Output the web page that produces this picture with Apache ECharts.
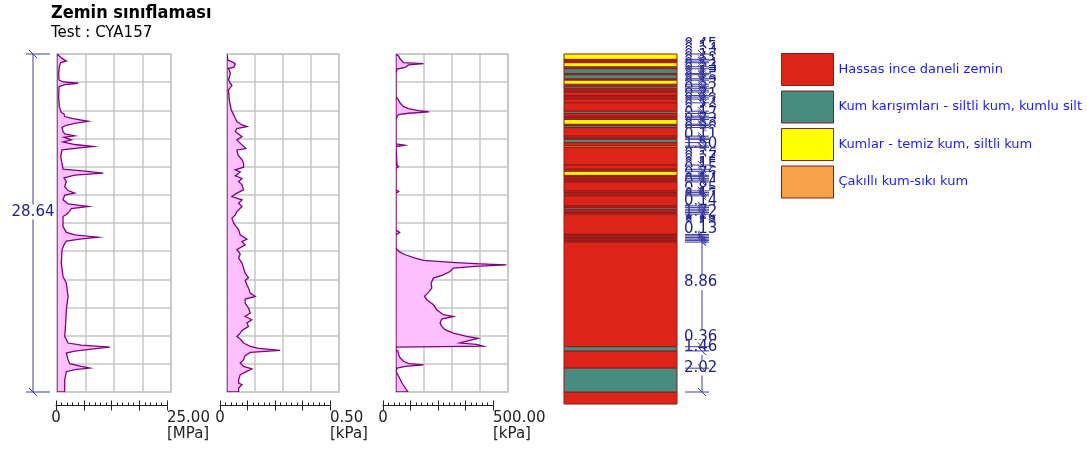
<html>
<head>
<meta http-equiv="content-type" content="text/html; charset=utf-8">
<script src="https://cdn.jsdelivr.net/npm/echarts@6/dist/echarts.min.js"></script>
<style>
html, body { margin: 0; padding: 0; background: #ffffff; }
#chart { width: 1087px; height: 455px; }
</style>
<title>Zemin sınıflaması</title>
</head>
<body>
<div id="chart"></div>
<script type="text/javascript">
///////////////////////////////////////////////////////////////////////////////
// data (depth in m)
var depthMax = 28.64;

// cone resistance qc [MPa]
var qcDepth = [0,0.06,0.37,0.59,0.73,1.07,1.64,2.20,2.37,2.48,2.60,2.77,3.61,4.46,4.97,5.08,5.30,5.47,5.70,5.87,
	6.04,6.21,6.57,6.77,6.94,7.05,7.28,7.45,7.67,7.84,7.96,8.13,8.69,9.26,9.76,9.93,10.10,10.27,10.50,10.81,
	11.23,11.57,11.79,11.96,12.36,12.70,12.92,13.09,13.32,13.60,13.77,14.62,15.12,15.32,15.52,15.69,15.86,16.17,16.59,17.72,
	18.85,19.41,20.54,21.67,22.80,23.93,24.49,24.66,24.83,25.00,25.17,25.34,25.90,26.24,26.47,26.61,26.75,26.92,27.60,28.64];
var qcValue = [0,0.22,1.10,2.05,0.81,0.51,0.37,0.44,1.32,4.62,1.69,0.44,0.37,0.51,0.95,1.54,1.69,3.52,6.82,3.89,
	2.05,1.10,1.32,1.69,3.89,1.54,3.15,1.32,3.89,7.92,4.99,1.10,0.81,1.10,1.32,6.09,10.12,3.89,1.54,2.05,
	1.69,2.42,3.89,1.69,1.32,2.42,6.82,3.15,2.79,2.05,1.32,1.32,2.05,3.89,9.02,4.99,2.05,1.54,1.10,0.95,
	1.32,2.05,2.42,2.05,1.91,1.69,2.42,5.35,11.58,7.55,3.89,2.05,2.42,2.79,5.35,7.18,3.89,2.05,1.69,1.69];

// sleeve friction [kPa]
var fsDepth = [0,0.51,0.73,0.85,1.13,1.21,1.64,2.20,2.48,2.65,3.05,3.89,4.74,5.16,5.45,5.73,6.01,6.15,6.32,6.57,
	7.00,7.28,7.70,8.01,8.13,8.55,8.97,9.26,9.59,9.82,9.99,10.33,10.55,10.81,11.09,11.51,11.79,12.08,12.36,12.64,
	12.92,13.35,13.63,13.91,14.33,14.90,15.32,15.69,15.91,16.17,16.59,16.93,17.30,17.72,18.14,18.57,18.96,19.19,19.55,19.84,
	20.26,20.54,20.77,21.11,21.53,21.95,22.24,22.52,22.80,23.08,23.42,23.65,23.93,24.15,24.49,24.77,24.94,25.11,25.28,25.56,
	25.90,26.19,26.47,26.69,26.89,27.17,27.60,27.88,28.02,28.30,28.64];
var fsValue = [0,0.004,0.030,0.037,0.030,0.007,0.015,0.007,0.015,0.022,0.007,0.010,0.019,0.030,0.037,0.044,0.067,0.089,0.044,0.037,
	0.067,0.044,0.067,0.084,0.044,0.049,0.067,0.074,0.074,0.037,0.059,0.037,0.067,0.052,0.067,0.074,0.044,0.022,0.067,0.052,
	0.067,0.044,0.037,0.022,0.030,0.052,0.059,0.089,0.067,0.081,0.044,0.059,0.052,0.067,0.074,0.081,0.096,0.081,0.089,0.096,
	0.104,0.126,0.081,0.081,0.096,0.104,0.081,0.111,0.089,0.096,0.067,0.059,0.044,0.059,0.074,0.104,0.141,0.237,0.104,0.081,
	0.074,0.059,0.074,0.111,0.089,0.059,0.052,0.052,0.067,0.052,0.052];

// pore pressure u2 [kPa]
var u2Depth = [0,0.17,0.45,0.73,0.82,0.93,1.13,1.27,1.64,3.61,3.84,4.18,4.46,4.63,4.80,4.91,5.02,5.14,5.30,5.59,
	7.62,7.73,7.84,9.40,9.54,9.68,11.51,11.65,11.79,14.90,15.12,15.32,16.45,16.73,17.01,17.30,17.49,17.66,17.78,17.86,
	18.00,18.14,18.43,18.71,18.99,19.41,19.84,20.26,20.54,20.82,21.25,21.67,22.09,22.24,22.46,22.80,23.08,23.36,23.65,23.93,
	24.10,24.27,24.49,24.60,24.75,24.83,25.06,25.20,25.48,25.76,26.04,26.24,26.35,26.47,26.61,26.89,27.31,27.88,28.30,28.64];
var u2Value = [0,11.8,19.2,34.0,122.8,56.2,41.4,4.4,0,0,8.9,19.2,34.0,56.2,100.6,147.9,56.2,11.8,4.4,0,
	0,38.5,0,4.4,11.8,0,0,11.8,0,0,16.3,0,0,11.8,41.4,85.8,122.8,248.5,374.3,492.6,
	352.1,255.9,241.1,211.5,167.2,156.8,159.8,142.0,127.2,137.6,167.2,182.0,211.5,255.9,204.1,196.7,204.1,218.9,255.9,315.1,
	366.9,329.9,285.5,359.5,389.1,0,0,8.9,11.8,19.2,34.0,56.2,122.8,41.4,4.4,0,11.8,26.6,41.4,53.3];

var axisMax = [25, 0.5, 500];
var axisUnit = ['[MPa]', '[kPa]', '[kPa]'];

// soil classification layers (thickness in m, type index into soilNames)
var soilNames = ['Hassas ince daneli zemin', 'Kum karışımları - siltli kum, kumlu silt', 'Kumlar - temiz kum, siltli kum', 'Çakıllı kum-sıkı kum'];
var layerThick = [0.45,0.15,0.14,0.34,0.17,0.40,0.11,0.34,0.12,0.34,0.17,0.17,
	0.17,0.15,0.30,0.13,0.17,0.32,0.71,0.19,0.23,0.14,0.14,0.40,
	0.11,0.17,0.73,0.17,0.10,0.28,0.29,0.11,1.50,0.36,0.17,0.34,
	0.11,0.15,0.15,0.15,0.76,0.14,0.14,0.14,0.85,0.13,0.15,0.14,
	0.14,0.14,1.72,0.12,0.12,0.04,0.12,0.12,0.13,8.86,0.36,1.46,2.02,1.02];
var layerType = [2,0,0,2,0,1,0,1,0,2,0,1,
	0,0,0,0,0,0,0,1,0,0,0,2,
	0,1,0,0,0,1,0,2,0,0,0,2,
	0,0,0,0,0,0,0,0,0,0,1,0,
	0,0,0,0,0,0,0,0,0,0,1,0,1,0];

///////////////////////////////////////////////////////////////////////////////
// styles / layout
var font = 'DejaVu Sans';
var soilColors = ['#dc2419', '#468c80', '#ffff00', '#f5a04b'];
var soilBorder = '#8b1a1a';
var gridColor = '#c6c6c6';
var rulerColor = '#222222';
var dimColor = '#3c3ca0';
var dimText = '#1e1e8c';
var panelLeft = [57, 227, 396];
var panelWidth = [114, 112, 112];
var rulerLeft = [56, 220, 383];
var rulerWidth = [111, 110, 110];
var plotTop = 54, plotHeight = 338;

///////////////////////////////////////////////////////////////////////////////
var grids = [], xAxes = [], yAxes = [], series = [];
var curves = [[qcDepth, qcValue], [fsDepth, fsValue], [u2Depth, u2Value]];

function curve_series(i, depths, values) {
	var pts = [];
	for (var k = 0; k < depths.length; k++) pts.push([values[k], depths[k]]);
	return {
		type: 'custom', xAxisIndex: i, yAxisIndex: i, clip: true, silent: true,
		data: pts,
		renderItem: function (params, api) {
			if (params.dataIndex !== 0) return;
			var poly = [api.coord([0, depths[0]])];
			for (var k = 0; k < depths.length; k++) poly.push(api.coord([values[k], depths[k]]));
			poly.push(api.coord([0, depths[depths.length - 1]]));
			return {type: 'polygon', shape: {points: poly},
				style: {fill: '#ffc0ff', stroke: '#800080', lineWidth: 1.3}};
		}
	};
}

// plot panels: grids 0..2
for (var i = 0; i < 3; i++) {
	grids.push({left: panelLeft[i], top: plotTop, width: panelWidth[i], height: plotHeight,
		show: true, borderColor: gridColor, borderWidth: 1.5, outerBoundsMode: 'none'});
	xAxes.push({
		gridIndex: i, type: 'value', min: 0, max: axisMax[i], interval: axisMax[i] / 4,
		axisLine: {show: false}, axisTick: {show: false}, axisLabel: {show: false},
		splitLine: {show: true, lineStyle: {color: gridColor, width: 1.5}}
	});
	yAxes.push({
		gridIndex: i, type: 'value', min: 0, max: depthMax, interval: depthMax / 12, inverse: true,
		axisLine: {show: false}, axisTick: {show: false}, axisLabel: {show: false},
		splitLine: {show: true, lineStyle: {color: gridColor, width: 1.5}}
	});
	series.push(curve_series(i, curves[i][0], curves[i][1]));
}

// soil column grid: grid 3
grids.push({left: 564, top: plotTop, width: 113, height: plotHeight, outerBoundsMode: 'none'});
xAxes.push({gridIndex: 3, type: 'value', min: 0, max: 1, show: false});
yAxes.push({gridIndex: 3, type: 'value', min: 0, max: depthMax, inverse: true, show: false});

// scale rulers under the panels: grids 4..6
for (var i = 0; i < 3; i++) {
	(function (i) {
		var max = axisMax[i];
		var g = grids.length;
		grids.push({left: rulerLeft[i], top: plotTop, width: rulerWidth[i], height: plotHeight, outerBoundsMode: 'none'});
		yAxes.push({gridIndex: g, type: 'value', min: 0, max: 1, show: false});
		// ticks above the line, with labels
		xAxes.push({
			gridIndex: g, type: 'value', min: 0, max: max, interval: max / 4,
			position: 'bottom', offset: 13.5,
			axisLine: {show: true, onZero: false, lineStyle: {color: rulerColor, width: 1}},
			axisTick: {show: true, inside: true, length: 5, lineStyle: {color: rulerColor, width: 1}},
			minorTick: {show: true, splitNumber: 5, length: 3, lineStyle: {color: rulerColor, width: 1}},
			splitLine: {show: false},
			axisLabel: {
				show: true, margin: 5, showMinLabel: true, showMaxLabel: true,
				alignMaxLabel: 'left', color: rulerColor, fontFamily: font, fontSize: 15, lineHeight: 16,
				formatter: function (v) {
					if (v === 0) return '0';
					if (Math.abs(v - max) < max * 1e-6) return max.toFixed(2) + '\n' + axisUnit[i];
					return '';
				}
			}
		});
		// major ticks continue below the line
		xAxes.push({
			gridIndex: g, type: 'value', min: 0, max: max, interval: max / 4,
			position: 'bottom', offset: 13.5,
			axisLine: {show: false, onZero: false},
			axisTick: {show: true, inside: false, length: 5, lineStyle: {color: rulerColor, width: 1}},
			axisLabel: {show: false}, splitLine: {show: false}
		});
	})(i);
}

var layerTop = [], acc = 0;
for (var k = 0; k < layerThick.length; k++) {
	layerTop.push(Math.round(acc * 100) / 100);
	acc += layerThick[k];
}

soilNames.forEach(function (name, t) {
	var d = [];
	for (var k = 0; k < layerThick.length; k++) {
		if (layerType[k] === t) d.push([layerTop[k], layerTop[k] + layerThick[k]]);
	}
	series.push({
		name: name, type: 'custom', xAxisIndex: 3, yAxisIndex: 3, clip: false, silent: true,
		itemStyle: {color: soilColors[t], borderColor: soilBorder},
		data: d,
		renderItem: function (params, api) {
			var p0 = api.coord([0, api.value(0)]);
			var p1 = api.coord([1, api.value(1)]);
			return {type: 'rect', shape: {x: p0[0], y: p0[1], width: p1[0] - p0[0], height: p1[1] - p0[1]},
				style: {fill: soilColors[t], stroke: soilBorder, lineWidth: 1}};
		}
	});
});

// layer thickness labels right of the column
var dimData = [], tickData = [];
for (var k = 0; k < layerThick.length; k++) {
	if (layerTop[k] >= depthMax - 1e-6) continue;
	dimData.push([layerTop[k], layerTop[k] + layerThick[k], layerThick[k]]);
	tickData.push([layerTop[k]]);
}
tickData.push([depthMax]);

series.push({
	type: 'custom', xAxisIndex: 3, yAxisIndex: 3, clip: false, silent: true,
	data: dimData,
	renderItem: function (params, api) {
		var pt = api.coord([1, api.value(0)]);
		var pb = api.coord([1, api.value(1)]);
		var ch = [];
		if (params.dataIndex === 0) {
			var a = api.coord([1, 0]), b = api.coord([1, depthMax]);
			ch.push({type: 'line', shape: {x1: a[0] + 25, y1: a[1], x2: a[0] + 25, y2: b[1]},
				style: {stroke: dimColor, lineWidth: 1}});
		}
		ch.push({type: 'text', x: pt[0] + 7, y: (pt[1] + pb[1]) / 2 - 12,
			style: {text: api.value(2).toFixed(2), fill: dimText, font: '15px ' + font,
				align: 'left', verticalAlign: 'middle', backgroundColor: '#ffffff'}});
		return {type: 'group', children: ch};
	}
});

series.push({
	type: 'custom', xAxisIndex: 3, yAxisIndex: 3, clip: false, silent: true,
	data: tickData,
	renderItem: function (params, api) {
		var p = api.coord([1, api.value(0)]);
		var x = p[0] + 25, y = p[1];
		return {type: 'group', children: [
			{type: 'line', shape: {x1: x - 17, y1: y, x2: x + 7, y2: y}, style: {stroke: dimColor, lineWidth: 1}},
			{type: 'line', shape: {x1: x - 4, y1: y - 4, x2: x + 4, y2: y + 4}, style: {stroke: dimColor, lineWidth: 1}}
		]};
	}
});

// total depth dimension left of first panel
series.push({
	type: 'custom', xAxisIndex: 0, yAxisIndex: 0, clip: false, silent: true,
	data: [[0, depthMax]],
	renderItem: function (params, api) {
		var a = api.coord([0, 0]), b = api.coord([0, depthMax]);
		var x = a[0] - 24;
		var ch = [{type: 'line', shape: {x1: x, y1: a[1], x2: x, y2: b[1]}, style: {stroke: dimColor, lineWidth: 1}}];
		[a[1], b[1]].forEach(function (y) {
			ch.push({type: 'line', shape: {x1: x - 7, y1: y, x2: x + 17, y2: y}, style: {stroke: dimColor, lineWidth: 1}});
			ch.push({type: 'line', shape: {x1: x - 4, y1: y - 4, x2: x + 4, y2: y + 4}, style: {stroke: dimColor, lineWidth: 1}});
		});
		ch.push({type: 'text', x: x, y: (a[1] + b[1]) / 2 - 11,
			style: {text: depthMax.toFixed(2), fill: dimText, font: '15px ' + font,
				align: 'center', verticalAlign: 'middle', backgroundColor: '#ffffff'}});
		return {type: 'group', children: ch};
	}
});

///////////////////////////////////////////////////////////////////////////////
var chart = echarts.init(document.getElementById('chart'));
chart.setOption({
	animation: false,
	backgroundColor: '#ffffff',
	title: {
		text: 'Zemin sınıflaması', subtext: 'Test : CYA157', left: 51, top: 4, padding: 0, itemGap: 4,
		textStyle: {fontFamily: 'DejaVu Sans Condensed', fontWeight: 'bold', fontSize: 18, color: '#000000'},
		subtextStyle: {fontFamily: font, fontSize: 15, color: '#000000'}
	},
	legend: {
		orient: 'vertical', left: 781, top: 53, padding: 0, itemWidth: 52, itemHeight: 32, itemGap: 4.5,
		icon: 'rect', selectedMode: false,
		textStyle: {fontFamily: font, fontSize: 13, color: '#1a1aff'},
		data: soilNames.map(function (n, t) {
			return {name: n, itemStyle: {color: soilColors[t], borderColor: soilBorder, borderWidth: 1}};
		})
	},
	grid: grids,
	xAxis: xAxes,
	yAxis: yAxes,
	series: series
});
</script>
</body>
</html>
